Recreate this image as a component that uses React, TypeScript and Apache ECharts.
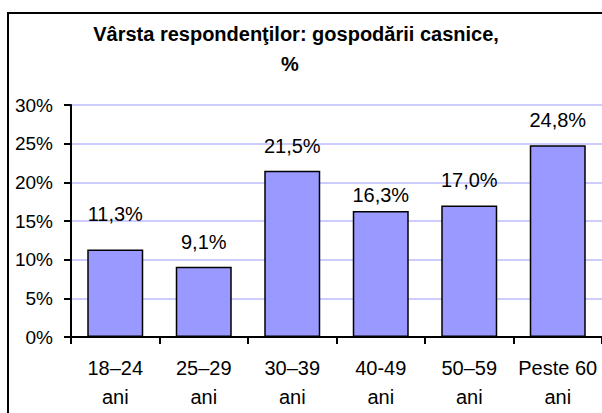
import React, { useEffect, useRef } from "react";
import * as echarts from "echarts";

const categories = ["18–24\nani", "25–29\nani", "30–39\nani", "40-49\nani", "50–59\nani", "Peste 60\nani"];
const values = [11.3, 9.1, 21.5, 16.3, 17.0, 24.8];
const yTicks = [0, 5, 10, 15, 20, 25, 30];
const titleLines = ["Vârsta respondenţilor: gospodării casnice,", "%"];

// label placement (style, not data)
const labelGap = [26, 15, 15, 6, 16, 15];

const FONT = "'Liberation Sans', Arial, sans-serif";

export default function App() {
  const ref = useRef<HTMLDivElement>(null);
  useEffect(() => {
    if (!ref.current) return;
    const chart = echarts.init(ref.current, null, { renderer: "svg" });
    chart.setOption({
      animation: false,
      backgroundColor: "#ffffff",
      graphic: [
        {
          type: "text",
          x: 296,
          y: 34,
          style: {
            text: titleLines[0],
            align: "center",
            verticalAlign: "middle",
            fontFamily: FONT,
            fontWeight: "bold",
            fontSize: 20,
            fill: "#000",
          },
        },
        {
          type: "text",
          x: 290,
          y: 64,
          style: {
            text: titleLines[1],
            align: "center",
            verticalAlign: "middle",
            fontFamily: FONT,
            fontWeight: "bold",
            fontSize: 20,
            fill: "#000",
          },
        },
        {
          type: "rect",
          shape: { x: 8, y: 13, width: 640, height: 440 },
          style: { fill: "none", stroke: "#000", lineWidth: 2 },
          silent: true,
          z: 100,
        },
      ],
      grid: { left: 71, top: 105, width: 534, bottom: 76, containLabel: false },
      xAxis: {
        type: "category",
        data: categories,
        axisLine: { lineStyle: { color: "#000", width: 2 } },
        axisTick: { show: true, length: 7, lineStyle: { color: "#000", width: 2 } },
        axisLabel: {
          fontFamily: FONT,
          fontSize: 20,
          lineHeight: 29,
          color: "#000",
          margin: 16,
          interval: 0,
        },
      },
      yAxis: {
        type: "value",
        min: 0,
        max: 30,
        interval: 5,
        axisLine: { show: true, lineStyle: { color: "#000", width: 2 } },
        axisTick: { show: true, length: 7, lineStyle: { color: "#000", width: 2 } },
        splitLine: { show: true, lineStyle: { color: "#CCCCFF", width: 2 } },
        axisLabel: {
          fontFamily: FONT,
          fontSize: 19,
          color: "#000",
          margin: 18,
          formatter: (v: number) => (yTicks.includes(v) ? `${v}%` : ""),
        },
      },
      series: [
        {
          type: "bar",
          data: values.map((v, i) => ({ value: v, label: { distance: labelGap[i] } })),
          barWidth: 56,
          itemStyle: { color: "#9999FF", borderColor: "#000", borderWidth: 1.5 },
          label: {
            show: true,
            position: "top",
            fontFamily: FONT,
            fontSize: 20,
            color: "#000",
            formatter: (p: any) => `${Number(p.value).toFixed(1).replace(".", ",")}%`,
          },
        },
      ],
    });
    return () => chart.dispose();
  }, []);
  return (
    <div
      ref={ref}
      style={{ position: "fixed", left: 0, top: 0, width: 602, height: 413 }}
    />
  );
}
